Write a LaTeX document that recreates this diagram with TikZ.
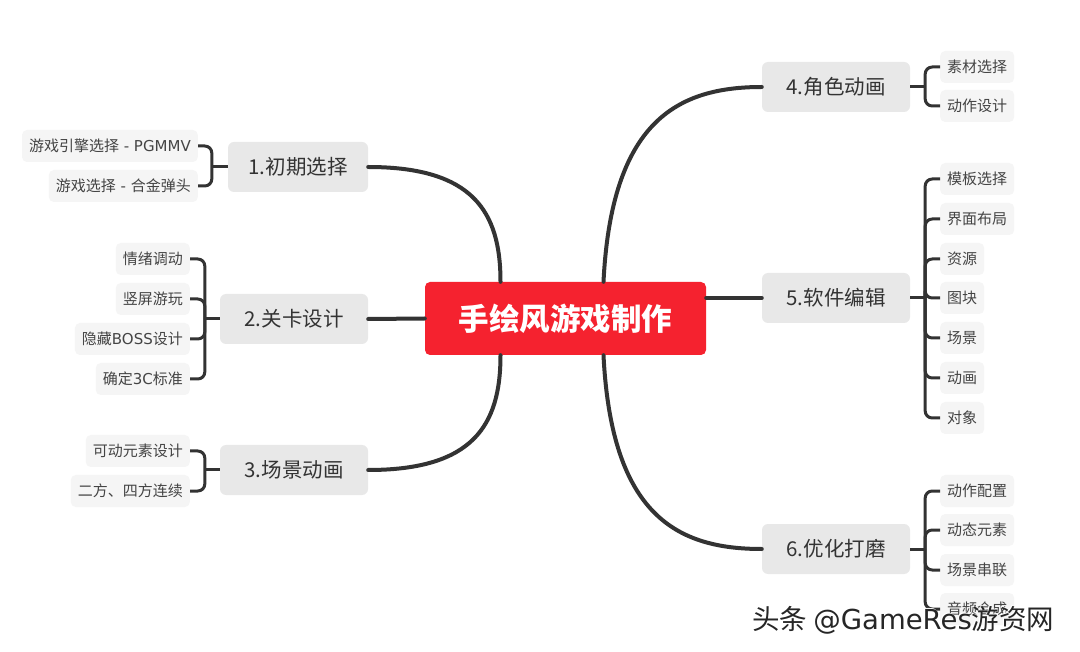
\documentclass[tikz,border=0pt]{standalone}
\usepackage{fontspec}
\setmainfont{Noto Sans CJK SC}
\newfontfamily\latwide{DejaVu Sans}
\usetikzlibrary{calc}
\definecolor{rootred}{HTML}{F5222F}
\definecolor{topicgray}{HTML}{E8E8E8}
\definecolor{leafgray}{HTML}{F5F5F5}
\definecolor{linedark}{HTML}{333333}
\definecolor{textdark}{HTML}{333333}
\definecolor{textgray}{HTML}{444444}
\begin{document}
\begin{tikzpicture}[x=1pt,y=-1pt,
  root/.style={fill=rootred, text=white, rounded corners=5pt, minimum width=281pt, minimum height=73pt, inner sep=0pt, font=\fontsize{30.5}{32}\selectfont\bfseries},
  topic/.style={fill=topicgray, text=textdark, rounded corners=6pt, minimum width=148pt, minimum height=50pt, inner sep=0pt, font=\fontsize{20.5}{24}\selectfont},
  leaf/.style={fill=leafgray, text=textgray, rounded corners=5pt, minimum height=32pt, inner xsep=7pt, inner ysep=0pt, font=\fontsize{15}{18}\selectfont},
  trunk/.style={draw=linedark, line width=4pt, line cap=round},
  twig/.style={draw=linedark, line width=3pt, rounded corners=7pt},
  wmark/.style={font=\fontsize{27.5}{30}\selectfont, anchor=west, inner sep=0pt}]
\fill[white] (0,0) rectangle (1080,652);
\useasboundingbox (0,0) rectangle (1080,652);

% root and topics
\node[root] (root) at (565.5,318.5) {手绘风游戏制作};
\node[topic, minimum width=140pt] (t1) at (298,167) {1.初期选择};
\node[topic] (t2) at (294,319) {2.关卡设计};
\node[topic] (t3) at (294,470) {3.场景动画};
\node[topic] (t4) at (836,87) {4.角色动画};
\node[topic] (t5) at (836,298) {5.软件编辑};
\node[topic] (t6) at (836,549) {6.优化打磨};

% trunks
\draw[trunk] ([xshift=-65pt]root.north) .. controls +(0,-70) and +(105,0) .. (t1.east);
\draw[trunk] (root.west) -- (t2.east);
\draw[trunk] ([xshift=-65pt]root.south) .. controls +(0,70) and +(105,0) .. (t3.east);
\draw[trunk] ([xshift=38pt]root.north) .. controls +(8,-160) and +(-85,0) .. (t4.west);
\draw[trunk] (root.east |- t5.west) -- (t5.west);
\draw[trunk] ([xshift=38pt]root.south) .. controls +(8,160) and +(-85,0) .. (t6.west);

% leaves left
\node[leaf, anchor=east] (a1) at (198,146) {游戏引擎选择{\latwide\ - PGMMV}};
\node[leaf, anchor=east] (a2) at (198,186) {游戏选择{\latwide\ - }合金弹头};
\node[leaf, anchor=east] (b1) at (190,259) {情绪调动};
\node[leaf, anchor=east] (b2) at (190,299) {竖屏游玩};
\node[leaf, anchor=east] (b3) at (190,339) {隐藏{\latwide BOSS}设计};
\node[leaf, anchor=east] (b4) at (190,379) {确定{\latwide 3C}标准};
\node[leaf, anchor=east] (c1) at (190,451) {可动元素设计};
\node[leaf, anchor=east] (c2) at (190,491) {二方、四方连续};

% leaves right
\node[leaf, anchor=west] (d1) at (940,67) {素材选择};
\node[leaf, anchor=west] (d2) at (940,106) {动作设计};
\node[leaf, anchor=west] (e1) at (940,179) {模板选择};
\node[leaf, anchor=west] (e2) at (940,219) {界面布局};
\node[leaf, anchor=west] (e3) at (940,259) {资源};
\node[leaf, anchor=west] (e4) at (940,298) {图块};
\node[leaf, anchor=west] (e5) at (940,338) {场景};
\node[leaf, anchor=west] (e6) at (940,378) {动画};
\node[leaf, anchor=west] (e7) at (940,418) {对象};
\node[leaf, anchor=west] (f1) at (940,491) {动作配置};
\node[leaf, anchor=west] (f2) at (940,530) {动态元素};
\node[leaf, anchor=west] (f3) at (940,570) {场景串联};
\node[leaf, anchor=west] (f4) at (940,609) {音频合成};

% junctions
\coordinate (j1) at ($(t1.west)+(-16,0)$);
\coordinate (j2) at ($(t2.west)+(-15,0)$);
\coordinate (j3) at ($(t3.west)+(-15,0)$);
\coordinate (j4) at ($(t4.east)+(15,0)$);
\coordinate (j5) at ($(t5.east)+(15,0)$);
\coordinate (j6) at ($(t6.east)+(15,0)$);

% twigs
\draw[twig] (t1.west) -- (j1);
\draw[twig] (a1.east) -| (j1) |- (a2.east);
\draw[twig] (t2.west) -- (j2);
\draw[twig] (b1.east) -| (j2) |- (b4.east);
\draw[twig] (j2) |- (b2.east);
\draw[twig] (j2) |- (b3.east);
\draw[twig] (t3.west) -- (j3);
\draw[twig] (c1.east) -| (j3) |- (c2.east);
\draw[twig] (t4.east) -- (j4);
\draw[twig] (d1.west) -| (j4) |- (d2.west);
\draw[twig] (t5.east) -- (j5);
\draw[twig] (e1.west) -| (j5) |- (e7.west);
\draw[twig] (j5) |- (e2.west);
\draw[twig] (j5) |- (e3.west);
\draw[twig] (j5) |- (e4.west);
\draw[twig] (j5) |- (e5.west);
\draw[twig] (j5) |- (e6.west);
\draw[twig] (t6.east) -- (j6);
\draw[twig] (f1.west) -| (j6) |- (f4.west);
\draw[twig] (j6) |- (f2.west);
\draw[twig] (j6) |- (f3.west);

% watermark
\node[wmark, text=white] (wmw) at (751,619) {头条 {\latwide @GameRes}游资网};
\node[wmark, text=black!85] (wm) at (752,620) {头条 {\latwide @GameRes}游资网};
\end{tikzpicture}
\end{document}
